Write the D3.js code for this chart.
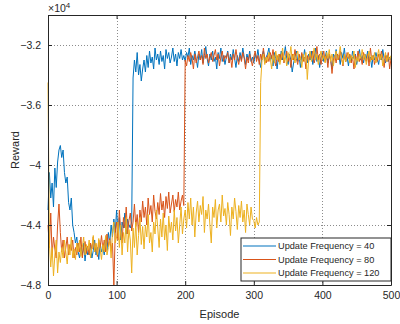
<!DOCTYPE html>
<html>
<head>
<meta charset="utf-8">
<script src="https://cdn.jsdelivr.net/npm/d3@7"></script>
<style>
  body { margin: 0; background: #fff; }
  text { font-family: "Liberation Sans", Arial, sans-serif; fill: #262626; }
</style>
</head>
<body>
<script>
// rewards in units of 1e4, one value every 2 episodes (0..500)
const step = 2;

const freq40 = [
  -4.30, -4.05, -4.22, -4.12, -4.28, -4.02, -4.15, -3.98, -3.90, -3.87,
  -3.95, -3.90, -4.05, -4.12, -4.08, -4.25, -4.30, -4.22, -4.40, -4.45,
  -4.52, -4.48, -4.58, -4.62, -4.55, -4.60, -4.52, -4.64, -4.55, -4.60,
  -4.58, -4.53, -4.62, -4.57, -4.50, -4.60, -4.55, -4.63, -4.52, -4.58,
  -4.55, -4.60, -4.48, -4.57, -4.45, -4.52, -4.40, -4.48, -4.36, -4.45,
  -4.30, -4.45, -4.35, -4.50, -4.38, -4.42, -4.32, -4.46, -4.36, -4.40,
  -4.42, -4.38, -3.42, -3.30, -3.38, -3.25, -3.40, -3.33, -3.44, -3.36,
  -3.30, -3.38, -3.27, -3.35, -3.24, -3.32, -3.28, -3.36, -3.22, -3.30,
  -3.26, -3.33, -3.24, -3.31, -3.27, -3.36, -3.23, -3.29, -3.25, -3.32,
  -3.28, -3.22, -3.31, -3.26, -3.34, -3.25, -3.29, -3.23, -3.30, -3.27,
  -3.31, -3.25, -3.28, -3.22, -3.33, -3.27, -3.30, -3.24, -3.29, -3.35,
  -3.26, -3.30, -3.23, -3.32, -3.27, -3.21, -3.29, -3.34, -3.26, -3.30,
  -3.24, -3.31, -3.28, -3.36, -3.25, -3.29, -3.22, -3.31, -3.27, -3.33,
  -3.28, -3.24, -3.32, -3.26, -3.30, -3.23, -3.29, -3.35, -3.27, -3.31,
  -3.25, -3.30, -3.22, -3.28, -3.33, -3.26, -3.30, -3.24, -3.31, -3.28,
  -3.32, -3.26, -3.29, -3.23, -3.30, -3.35, -3.27, -3.24, -3.31, -3.28,
  -3.26, -3.22, -3.30, -3.27, -3.34, -3.25, -3.29, -3.36, -3.27, -3.31,
  -3.24, -3.30, -3.27, -3.21, -3.29, -3.33, -3.26, -3.30, -3.38, -3.32,
  -3.28, -3.24, -3.31, -3.27, -3.35, -3.26, -3.30, -3.23, -3.29, -3.32,
  -3.26, -3.30, -3.24, -3.33, -3.28, -3.22, -3.31, -3.27, -3.35, -3.29,
  -3.25, -3.31, -3.28, -3.24, -3.32, -3.27, -3.30, -3.36, -3.26, -3.29,
  -3.23, -3.30, -3.27, -3.33, -3.25, -3.29, -3.22, -3.31, -3.28, -3.34,
  -3.27, -3.31, -3.24, -3.29, -3.26, -3.33, -3.28, -3.23, -3.30, -3.27,
  -3.32, -3.26, -3.29, -3.24, -3.31, -3.28, -3.35, -3.27, -3.30, -3.25,
  -3.29, -3.33, -3.26, -3.30, -3.23, -3.29, -3.32, -3.27, -3.31, -3.28,
  -3.30
];

const freq80 = [
  -4.40, -4.55, -4.32, -4.60, -4.48, -4.56, -4.62, -4.40, -4.26, -4.45,
  -4.58, -4.50, -4.62, -4.55, -4.48, -4.60, -4.53, -4.57, -4.50, -4.62,
  -4.55, -4.60, -4.52, -4.58, -4.48, -4.62, -4.55, -4.51, -4.59, -4.54,
  -4.60, -4.52, -4.56, -4.48, -4.58, -4.53, -4.61, -4.50, -4.55, -4.47,
  -4.56, -4.50, -4.58, -4.46, -4.54, -4.49, -4.57, -4.52, -4.80, -4.45,
  -4.38, -4.50, -4.30, -4.45, -4.52, -4.35, -4.42, -4.28, -4.46, -4.37,
  -4.32, -4.44, -4.38, -4.26, -4.41, -4.33, -4.45, -4.30, -4.38, -4.24,
  -4.35, -4.28, -4.40, -4.22, -4.33, -4.27, -4.38, -4.20, -4.31, -4.36,
  -4.25, -4.33, -4.19, -4.30, -4.24, -4.35, -4.21, -4.29, -4.18, -4.32,
  -4.26, -4.20, -4.31, -4.23, -4.28, -4.18, -4.30, -4.24, -4.20, -4.27,
  -3.30, -3.34, -3.27, -3.31, -3.25, -3.29, -3.36, -3.26, -3.32, -3.28,
  -3.24, -3.30, -3.27, -3.33, -3.22, -3.29, -3.26, -3.32, -3.28, -3.25,
  -3.31, -3.27, -3.23, -3.30, -3.26, -3.34, -3.28, -3.24, -3.31, -3.27,
  -3.29, -3.25, -3.32, -3.28, -3.35, -3.26, -3.30, -3.23, -3.29, -3.33,
  -3.27, -3.31, -3.25, -3.29, -3.36, -3.28, -3.32, -3.26, -3.30, -3.34,
  -3.28, -3.24, -3.31, -3.27, -3.33, -3.26, -3.30, -3.22, -3.29, -3.32,
  -3.27, -3.31, -3.25, -3.29, -3.23, -3.30, -3.34, -3.27, -3.31, -3.26,
  -3.30, -3.25, -3.32, -3.28, -3.24, -3.31, -3.27, -3.35, -3.26, -3.30,
  -3.23, -3.29, -3.33, -3.26, -3.30, -3.25, -3.31, -3.28, -3.36, -3.27,
  -3.31, -3.26, -3.29, -3.24, -3.32, -3.28, -3.21, -3.30, -3.26, -3.33,
  -3.28, -3.24, -3.31, -3.27, -3.35, -3.26, -3.29, -3.39, -3.30, -3.27,
  -3.32, -3.26, -3.30, -3.24, -3.29, -3.34, -3.27, -3.31, -3.25, -3.29,
  -3.26, -3.32, -3.28, -3.36, -3.27, -3.30, -3.24, -3.31, -3.28, -3.33,
  -3.25, -3.29, -3.31, -3.26, -3.34, -3.22, -3.30, -3.27, -3.33, -3.28,
  -3.31, -3.26, -3.30, -3.24, -3.29, -3.35, -3.27, -3.31, -3.25, -3.36,
  -3.29
];

const freq120 = [
  -3.45, -4.52, -4.68, -4.55, -4.74, -4.60, -4.50, -4.72, -4.58, -4.65,
  -4.55, -4.62, -4.50, -4.58, -4.66, -4.53, -4.60, -4.48, -4.62, -4.56,
  -4.63, -4.52, -4.58, -4.50, -4.61, -4.55, -4.48, -4.60, -4.53, -4.57,
  -4.50, -4.62, -4.55, -4.47, -4.58, -4.52, -4.60, -4.49, -4.56, -4.63,
  -4.53, -4.58, -4.47, -4.60, -4.55, -4.50, -4.62, -4.45, -4.38, -4.52,
  -4.48, -4.38, -4.55, -4.40, -4.60, -4.45, -4.52, -4.35, -4.58, -4.43,
  -4.50, -4.72, -4.42, -4.55, -4.38, -4.60, -4.47, -4.35, -4.53, -4.41,
  -4.56, -4.40, -4.48, -4.33, -4.52, -4.45, -4.58, -4.38, -4.46, -4.30,
  -4.42, -4.55, -4.36, -4.48, -4.32, -4.50, -4.40, -4.57, -4.34, -4.45,
  -4.38, -4.50, -4.30, -4.44, -4.35, -4.52, -4.40, -4.28, -4.46, -4.36,
  -4.30, -4.42, -4.25, -4.36, -4.22, -4.40, -4.28, -4.48, -4.32, -4.24,
  -4.38, -4.27, -4.33, -4.21, -4.45, -4.30, -4.36, -4.26, -4.40, -4.52,
  -4.28, -4.35, -4.23, -4.42, -4.30, -4.26, -4.38, -4.20, -4.34, -4.29,
  -4.40, -4.25, -4.33, -4.47, -4.28, -4.36, -4.22, -4.31, -4.43, -4.27,
  -4.35, -4.24, -4.38, -4.30, -4.45, -4.26, -4.33, -4.40, -4.28, -4.36,
  -4.37, -4.42, -4.35, -4.40, -4.38, -3.45, -3.30, -3.26, -3.33, -3.28,
  -3.31, -3.25, -3.29, -3.36, -3.27, -3.32, -3.24, -3.30, -3.26, -3.33,
  -3.28, -3.22, -3.31, -3.27, -3.34, -3.25, -3.29, -3.21, -3.30, -3.26,
  -3.32, -3.27, -3.24, -3.30, -3.28, -3.35, -3.26, -3.31, -3.25, -3.43,
  -3.29, -3.24, -3.31, -3.27, -3.22, -3.30, -3.26, -3.33, -3.28, -3.24,
  -3.30, -3.27, -3.32, -3.25, -3.29, -3.23, -3.31, -3.26, -3.34, -3.28,
  -3.24, -3.30, -3.27, -3.21, -3.29, -3.33, -3.26, -3.31, -3.28, -3.25,
  -3.32, -3.27, -3.30, -3.24, -3.35, -3.28, -3.31, -3.26, -3.29, -3.23,
  -3.30, -3.26, -3.33, -3.28, -3.24, -3.31, -3.27, -3.30, -3.25, -3.32,
  -3.28, -3.23, -3.30, -3.26, -3.34, -3.29, -3.25, -3.31, -3.27, -3.30,
  -3.27
];

const seriesNames = ['Update Frequency = 40', 'Update Frequency = 80', 'Update Frequency = 120'];
const colors = ['#0072BD', '#D95319', '#EDB120'];
const xTicks = [0, 100, 200, 300, 400, 500];
const yTicks = [-4.8, -4.4, -4, -3.6, -3.2];

const W = 400, H = 324;
const m = { left: 48, right: 9, top: 15, bottom: 39 };

let svg = d3.select('body')
  .append('svg')
  .attr('width', W)
  .attr('height', H);

let x = d3.scaleLinear().domain([0, 500]).range([m.left, W - m.right]);
let y = d3.scaleLinear().domain([-4.8, -3.0]).range([H - m.bottom, m.top]);

// grid
let grid = svg.append('g')
  .attr('stroke', '#8c8c8c')
  .attr('stroke-width', 1)
  .attr('stroke-dasharray', '1,2');
grid.selectAll('.gx')
  .data(xTicks.slice(1, -1))
  .enter().append('line')
  .attr('x1', (d) => Math.round(x(d)) + 0.5).attr('x2', (d) => Math.round(x(d)) + 0.5)
  .attr('y1', y(-3.0)).attr('y2', y(-4.8));
grid.selectAll('.gy')
  .data(yTicks.slice(1))
  .enter().append('line')
  .attr('y1', (d) => Math.round(y(d)) + 0.5).attr('y2', (d) => Math.round(y(d)) + 0.5)
  .attr('x1', x(0)).attr('x2', x(500));

// lines
let line = d3.line()
  .x((d, i) => x(i * step))
  .y((d) => y(d));

let plot = svg.append('g');
[freq40, freq80, freq120].forEach((s, i) => {
  plot.append('path')
    .datum(s)
    .attr('fill', 'none')
    .attr('stroke', colors[i])
    .attr('stroke-width', 1)
    .attr('stroke-linejoin', 'round')
    .attr('d', line);
});

// axes (ticks inward, on all sides)
const tick = 4;
svg.append('g')
  .attr('transform', `translate(0,${y(-4.8)})`)
  .call(d3.axisBottom(x).tickValues(xTicks).tickSizeInner(-tick).tickSizeOuter(0).tickPadding(7))
  .call((g) => g.selectAll('text').attr('font-size', 10.5).attr('fill', '#262626'));
svg.append('g')
  .attr('transform', `translate(0,${y(-3.0)})`)
  .call(d3.axisTop(x).tickValues(xTicks).tickSizeInner(-tick).tickSizeOuter(0).tickFormat(''));
svg.append('g')
  .attr('transform', `translate(${x(0)},0)`)
  .call(d3.axisLeft(y).tickValues(yTicks).tickSizeInner(-tick).tickSizeOuter(0).tickPadding(7)
    .tickFormat((d) => d3.format('')(d)))
  .call((g) => g.selectAll('text').attr('font-size', 10.5).attr('fill', '#262626'));
svg.append('g')
  .attr('transform', `translate(${x(500)},0)`)
  .call(d3.axisRight(y).tickValues(yTicks).tickSizeInner(-tick).tickSizeOuter(0).tickFormat(''));
svg.selectAll('.domain').attr('stroke', '#262626');
svg.selectAll('.tick line').attr('stroke', '#262626');

// exponent label
let ex = svg.append('text')
  .attr('x', x(0))
  .attr('y', 12)
  .attr('font-size', 10.5);
ex.append('tspan').text('\u00d710');
ex.append('tspan').attr('dy', -4).attr('font-size', 8).text('4');

// axis labels
svg.append('text')
  .attr('x', (x(0) + x(500)) / 2)
  .attr('y', 318)
  .attr('text-anchor', 'middle')
  .attr('font-size', 11)
  .text('Episode');
svg.append('text')
  .attr('transform', `translate(19,${(y(-3.0) + y(-4.8)) / 2}) rotate(-90)`)
  .attr('text-anchor', 'middle')
  .attr('font-size', 11)
  .text('Reward');

// legend
let lg = svg.append('g').attr('transform', 'translate(241,238)');
lg.append('rect')
  .attr('width', 150).attr('height', 43)
  .attr('fill', '#fff').attr('stroke', '#262626').attr('stroke-width', 1);
seriesNames.forEach((n, i) => {
  let yy = 8 + i * 13.5;
  lg.append('line')
    .attr('x1', 2).attr('x2', 35).attr('y1', yy).attr('y2', yy)
    .attr('stroke', colors[i]).attr('stroke-width', 1.2);
  lg.append('text')
    .attr('x', 37).attr('y', yy + 3.3)
    .attr('font-size', 9.2)
    .text(n);
});
</script>
</body>
</html>
